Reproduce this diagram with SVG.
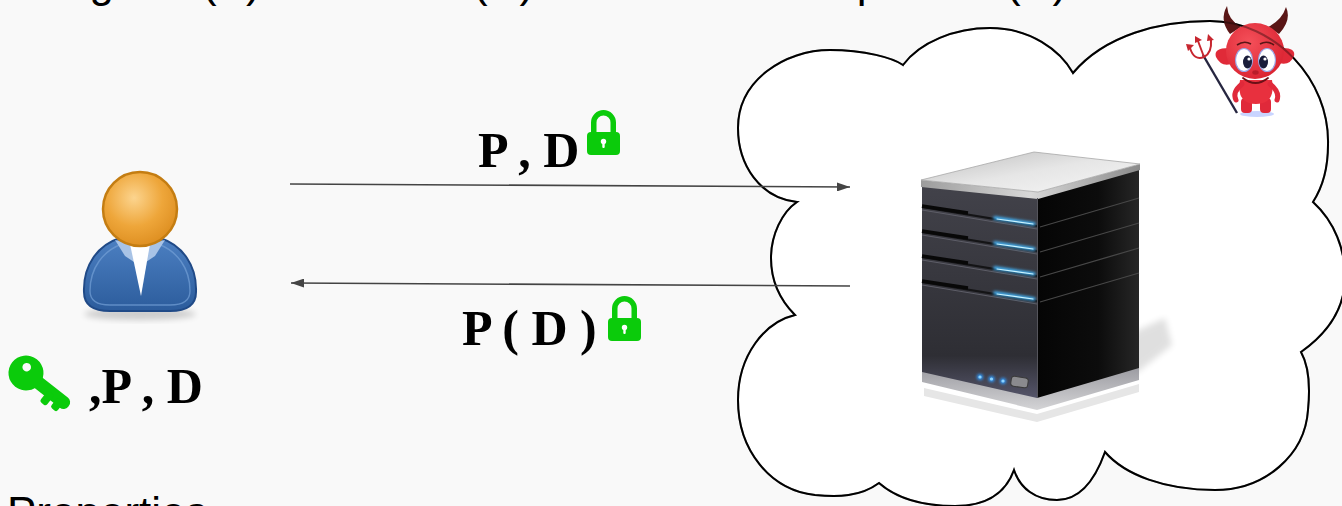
<svg xmlns="http://www.w3.org/2000/svg" width="1342" height="506" viewBox="0 0 1342 506">
<style>
  .serif{font-family:"Liberation Serif","Times New Roman",serif;font-weight:bold;fill:#000}
  .sans{font-family:"Liberation Sans",Arial,sans-serif;fill:#000}
  .conn{stroke:#444;stroke-width:1.6;fill:none}
  .green{fill:#0bcb0b}
  .bay{stroke:#141416;stroke-width:2.2}
  .bayhi{stroke:#5e5e68;stroke-width:1}
  .led{stroke:#43b8ff;stroke-width:3.4;stroke-linecap:round}
  .ledcore{stroke:#c9f3ff;stroke-width:1.2;stroke-linecap:round}
  .rline{stroke:#474747;stroke-width:1.3}
</style>
<defs>
  <marker id="arrow" viewBox="0 0 13 9" refX="13" refY="4.5" markerWidth="13" markerHeight="9" markerUnits="userSpaceOnUse" orient="auto">
    <path d="M0,0 L13,4.5 L0,9 z" fill="#444"/>
  </marker>
  <filter id="soft" x="-30%" y="-30%" width="160%" height="160%"><feGaussianBlur stdDeviation="3"/></filter>
  <filter id="glow" x="-30%" y="-100%" width="160%" height="300%"><feGaussianBlur stdDeviation="1.4"/></filter>
  <radialGradient id="headGrad" cx="0.42" cy="0.35" r="0.7">
    <stop offset="0" stop-color="#fcd48e"/>
    <stop offset="0.55" stop-color="#eea63a"/>
    <stop offset="1" stop-color="#dc8c1e"/>
  </radialGradient>
  <linearGradient id="bodyGrad" x1="0" y1="0" x2="0" y2="1">
    <stop offset="0" stop-color="#4c80c2"/>
    <stop offset="1" stop-color="#2c5c9c"/>
  </linearGradient>
  <linearGradient id="topGrad" x1="0" y1="0" x2="1" y2="1">
    <stop offset="0" stop-color="#bdbdbd"/>
    <stop offset="0.5" stop-color="#e6e6e6"/>
    <stop offset="1" stop-color="#f6f6f6"/>
  </linearGradient>
  <linearGradient id="rimGrad" x1="0" y1="0" x2="1" y2="0">
    <stop offset="0" stop-color="#9c9c9c"/>
    <stop offset="0.5" stop-color="#d8d8d8"/>
    <stop offset="1" stop-color="#8a8a8a"/>
  </linearGradient>
  <linearGradient id="frontGrad" x1="0" y1="0" x2="0" y2="1">
    <stop offset="0" stop-color="#42424a"/>
    <stop offset="0.8" stop-color="#2e2e34"/>
    <stop offset="1" stop-color="#55556a"/>
  </linearGradient>
  <linearGradient id="sideGrad" x1="0" y1="0" x2="1" y2="0">
    <stop offset="0" stop-color="#050505"/>
    <stop offset="0.6" stop-color="#0c0c0c"/>
    <stop offset="1" stop-color="#262626"/>
  </linearGradient>
  <linearGradient id="baseGrad" x1="0" y1="0" x2="0" y2="1">
    <stop offset="0" stop-color="#9a9aa0"/>
    <stop offset="1" stop-color="#d4d4d6"/>
  </linearGradient>
  <radialGradient id="devilHead" cx="0.4" cy="0.35" r="0.75">
    <stop offset="0" stop-color="#f5505a"/>
    <stop offset="1" stop-color="#d8202e"/>
  </radialGradient>
  <path id="cloudShape" d="M797,202 C760,198 738,165 738,128 C738,80 785,50 830,50 C865,50 893,58 903,65 C920,42 955,28 990,28 C1030,28 1060,50 1073,73 C1105,35 1160,21 1210,21 C1275,21 1330,80 1328,145 C1328,170 1322,188 1313,202 C1335,222 1345,250 1345,277 C1345,310 1325,335 1301,352 C1310,368 1310,390 1308,410 C1305,455 1265,490 1215,490 C1165,490 1125,475 1105,452 C1095,480 1080,500 1057,500 C1035,500 1020,488 1014,470 C1005,495 985,506 955,506 C920,506 895,497 879,483 C860,497 838,497 815,495 C770,490 738,450 738,400 C738,355 765,322 795,315 C780,300 771,280 771,258 C771,235 782,212 797,202 Z"/>
  <g id="lock">
    <path d="M6.75,24 V12.5 A9.75,9.75 0 0 1 26.25,12.5 V24" fill="none" stroke="#0bcb0b" stroke-width="5.5"/>
    <rect x="0" y="22" width="33" height="23" rx="4" class="green"/>
    <circle cx="16.5" cy="31.5" r="2.7" fill="#fff"/>
    <rect x="15.3" y="31.5" width="2.4" height="6.5" rx="1" fill="#fff"/>
  </g>
</defs>

<rect width="1342" height="506" fill="#f9f9f9"/>

<!-- heading line, mostly above the top edge -->
<text class="sans" font-size="44" y="-3"><tspan x="21">Program (P) and Data</tspan><tspan x="473">(D): the Server computes P(D)</tspan></text>

<!-- cloud -->
<g id="cloud">
  <use href="#cloudShape" fill="#fff" stroke="#000" stroke-width="2"/>
</g>

<!-- attacker -->
<g id="devil">
  <ellipse cx="1257" cy="114" rx="17" ry="3" fill="#9cb2ff" opacity="0.55"/>
  <!-- trident -->
  <line x1="1237" y1="113" x2="1203" y2="55" stroke="#262640" stroke-width="2.4"/>
  <path d="M1190,48 Q1194,61 1204,57 Q1212,53 1211,40" fill="none" stroke="#c7262f" stroke-width="2"/>
  <line x1="1204" y1="57" x2="1198" y2="41" stroke="#c7262f" stroke-width="2"/>
  <path d="M1186,44 L1194,45 L1188,51 Z M1195,36 L1202,40 L1195,43 Z M1208,34 L1214,40 L1207,41 Z" fill="#c7262f"/>
  <!-- legs and body -->
  <rect x="1241" y="98" width="11" height="15" rx="4" fill="#e0293a"/>
  <rect x="1260" y="98" width="11" height="15" rx="4" fill="#e0293a"/>
  <path d="M1240,80 Q1236,104 1256,104 Q1276,104 1272,80 Z" fill="#e8303e"/>
  <path d="M1242,84 Q1232,92 1236,100" fill="none" stroke="#e0293a" stroke-width="5" stroke-linecap="round"/>
  <path d="M1270,84 Q1280,92 1277,100" fill="none" stroke="#e0293a" stroke-width="5" stroke-linecap="round"/>
  <!-- horns -->
  <path d="M1230,34 Q1219,20 1227,6 Q1228,20 1241,27 Z" fill="#5a1616"/>
  <path d="M1279,34 Q1292,20 1286,7 Q1282,20 1268,27 Z" fill="#5a1616"/>
  <!-- ears -->
  <path d="M1229,48 Q1213,48 1216,57 Q1221,67 1231,64 Z" fill="#e02a38"/>
  <path d="M1280,48 Q1296,47 1294,56 Q1290,66 1279,63 Z" fill="#e02a38"/>
  <!-- head -->
  <ellipse cx="1255" cy="51" rx="29" ry="28" fill="url(#devilHead)"/>
  <!-- brows -->
  <path d="M1237,45 Q1244,40 1251,44" fill="none" stroke="#5a1616" stroke-width="1.6"/>
  <path d="M1260,44 Q1267,40 1274,45" fill="none" stroke="#5a1616" stroke-width="1.6"/>
  <!-- eyes -->
  <ellipse cx="1244" cy="60" rx="8.5" ry="11.5" fill="#fff" stroke="#9aa6e6" stroke-width="1.2"/>
  <ellipse cx="1267" cy="60" rx="8.5" ry="11.5" fill="#fff" stroke="#9aa6e6" stroke-width="1.2"/>
  <ellipse cx="1247.5" cy="62" rx="4.5" ry="6.5" fill="#1a1d3a"/>
  <ellipse cx="1263.5" cy="62" rx="4.5" ry="6.5" fill="#1a1d3a"/>
  <circle cx="1249" cy="59" r="1.6" fill="#fff"/>
  <circle cx="1265" cy="59" r="1.6" fill="#fff"/>
  <!-- nose and smile -->
  <ellipse cx="1255.5" cy="72.5" rx="3.2" ry="2.2" fill="#b81d29"/>
  <path d="M1243,78 Q1255.5,88 1268,78" fill="none" stroke="#6b0f16" stroke-width="1.8" stroke-linecap="round"/>
</g>

<!-- cloud outline showing faintly over the attacker -->
<use href="#cloudShape" fill="none" stroke="#000" stroke-width="2" stroke-opacity="0.35"/>

<!-- server -->
<g id="server">
  <path d="M1040,402 L1138,372 L1172,345 L1165,318 L1138,330 Z" fill="#000" opacity="0.12" filter="url(#soft)"/>
  <polygon points="924,388 1037,414 1139,384 1139,392 1037,422 924,396" fill="#e6e6e6"/>
  <polygon points="922,368 1037,396 1139,366 1139,380 1037,410 922,382" fill="url(#baseGrad)"/>
  <polygon points="1037,197 1139,168 1139,368 1037,398" fill="url(#sideGrad)"/>
  <polygon points="922,186 1037,197 1037,398 922,372" fill="url(#frontGrad)"/>
  <!-- top lid -->
  <polygon points="921,180 1038,192 1140,164 1140,170 1038,199 921,187" fill="url(#rimGrad)"/>
  <polygon points="921,180 1034,152 1140,164 1038,192" fill="url(#topGrad)" stroke="#a8a8a8" stroke-width="0.8"/>
  <!-- drive bays, front -->
  <g>
    <line x1="922" y1="207" x2="1037" y2="226" class="bay"/>
    <line x1="922" y1="232" x2="1037" y2="251" class="bay"/>
    <line x1="922" y1="257" x2="1037" y2="276" class="bay"/>
    <line x1="922" y1="282" x2="1037" y2="301" class="bay"/>
    <line x1="922" y1="210" x2="1037" y2="229" class="bayhi"/>
    <line x1="922" y1="235" x2="1037" y2="254" class="bayhi"/>
    <line x1="922" y1="260" x2="1037" y2="279" class="bayhi"/>
    <line x1="922" y1="285" x2="1037" y2="304" class="bayhi"/>
    <line x1="922" y1="206" x2="968" y2="213" stroke="#080808" stroke-width="3.5"/>
    <line x1="922" y1="231" x2="968" y2="238" stroke="#080808" stroke-width="3.5"/>
    <line x1="922" y1="256" x2="968" y2="263" stroke="#080808" stroke-width="3.5"/>
    <line x1="922" y1="281" x2="968" y2="288" stroke="#080808" stroke-width="3.5"/>
  </g>
  <g filter="url(#glow)">
    <line x1="995" y1="218" x2="1034" y2="224" class="led"/>
    <line x1="995" y1="243" x2="1034" y2="249" class="led"/>
    <line x1="995" y1="268" x2="1034" y2="274" class="led"/>
    <line x1="995" y1="293" x2="1034" y2="299" class="led"/>
  </g>
  <line x1="997" y1="219" x2="1033" y2="224" class="ledcore"/>
  <line x1="997" y1="244" x2="1033" y2="249" class="ledcore"/>
  <line x1="997" y1="269" x2="1033" y2="274" class="ledcore"/>
  <line x1="997" y1="294" x2="1033" y2="299" class="ledcore"/>
  <!-- drive bays, side -->
  <line x1="1040" y1="227" x2="1139" y2="198" class="rline"/>
  <line x1="1040" y1="252" x2="1139" y2="223" class="rline"/>
  <line x1="1040" y1="277" x2="1139" y2="248" class="rline"/>
  <line x1="1040" y1="302" x2="1139" y2="273" class="rline"/>
  <!-- front edge highlight -->
  <line x1="1037.5" y1="198" x2="1037.5" y2="398" stroke="#55555c" stroke-width="1"/>
  <!-- power lights and switch -->
  <g filter="url(#glow)">
    <circle cx="980" cy="377" r="3" fill="#2e9bff"/>
    <circle cx="991.5" cy="379" r="3" fill="#2e9bff"/>
    <circle cx="1003" cy="381" r="3" fill="#2e9bff"/>
  </g>
  <circle cx="980" cy="377" r="1.6" fill="#8fd4ff"/>
  <circle cx="991.5" cy="379" r="1.6" fill="#8fd4ff"/>
  <circle cx="1003" cy="381" r="1.6" fill="#8fd4ff"/>
  <rect x="1011" y="377" width="17" height="10" rx="3" fill="#8a8a8e" stroke="#3a3a3a" stroke-width="1" transform="rotate(8 1019 382)"/>
</g>

<!-- user -->
<g id="user">
  <ellipse cx="140" cy="314" rx="56" ry="6" fill="#000" opacity="0.18" filter="url(#soft)"/>
  <path d="M84,292 C83,265 98,245 120,238 L160,238 C182,245 197,265 196,292 C196,306 186,311 170,311 L110,311 C94,311 84,306 84,292 Z" fill="url(#bodyGrad)" stroke="#204a87" stroke-width="2"/>
  <path d="M90,291 C90,268 103,251 122,244 L158,244 C177,251 190,268 190,291 C190,301 183,305 170,305 L110,305 C97,305 90,301 90,291 Z" fill="none" stroke="#739fd6" stroke-width="1.4" opacity="0.7"/>
  <polygon points="115,240 131,244 137,264 125,256" fill="#a8c3e6"/>
  <polygon points="165,240 149,244 143,264 155,256" fill="#a8c3e6"/>
  <polygon points="130,244 150,244 141,296" fill="#fff"/>
  <circle cx="140" cy="209" r="37" fill="url(#headGrad)" stroke="#c47d12" stroke-width="2.5"/>
</g>

<!-- key and secrets held by the user -->
<g id="key" transform="translate(26,373) rotate(38)">
  <rect x="8" y="-6.5" width="46" height="13" rx="6" class="green"/>
  <rect x="28" y="0" width="8" height="14" rx="2.5" class="green"/>
  <rect x="40" y="0" width="8" height="12" rx="2.5" class="green"/>
  <circle cx="0" cy="0" r="17.5" class="green"/>
  <circle cx="-3" cy="-5" r="4.3" fill="#f9f9f9"/>
</g>
<g id="userSecrets">
  <text class="serif" font-size="50" x="89" y="403">,P , D</text>
</g>

<!-- connectors -->
<g id="connectors">
  <path class="conn" d="M290,184 L850,187" marker-end="url(#arrow)"/>
  <path class="conn" d="M850,286 L291,283" marker-end="url(#arrow)"/>
</g>

<!-- connector labels -->
<g id="sendLabel">
  <text class="serif" font-size="50" x="478" y="167">P , D</text>
  <use href="#lock" transform="translate(587,110)"/>
</g>
<g id="returnLabel">
  <text class="serif" font-size="50" x="462" y="345">P ( D )</text>
  <use href="#lock" transform="translate(608,296)"/>
</g>

<!-- section heading at the bottom edge -->
<text class="sans" font-size="44" x="7" y="528">Properties</text>
</svg>
